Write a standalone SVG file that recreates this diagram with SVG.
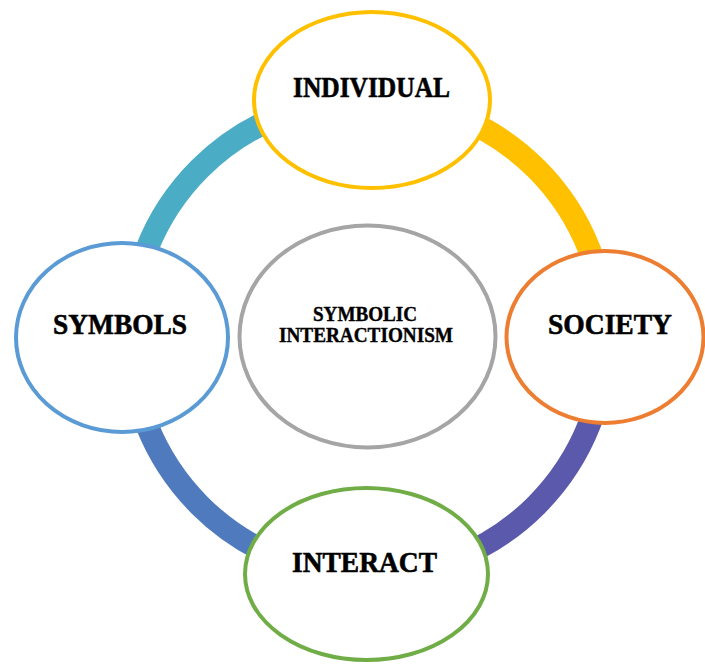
<svg xmlns="http://www.w3.org/2000/svg" width="705" height="664" viewBox="0 0 705 664">
  <style>
    .ring { fill: none; stroke-width: 23; }
    .node { fill: #ffffff; stroke-width: 4; }
    .lbl { font-family: "Liberation Serif", "DejaVu Serif", serif; font-weight: bold; fill: #000000; stroke: #000000; stroke-width: 0.6; text-anchor: middle; }
    .big { font-size: 29px; }
    .small { font-size: 20px; stroke-width: 0.4; }
  </style>
  <rect width="705" height="664" fill="#ffffff"/>

  <!-- cycle ring, one coloured quarter per step -->
  <g id="connectors">
    <path class="ring" stroke="#4BACC6" d="M130,337 A238,238 0 0 1 368,99"/>
    <path class="ring" stroke="#FFC000" d="M368,99 A238,238 0 0 1 606,337"/>
    <path class="ring" stroke="#5B59AB" d="M606,337 A238,238 0 0 1 368,575"/>
    <path class="ring" stroke="#4F7BBE" d="M368,575 A238,238 0 0 1 130,337"/>
  </g>

  <g id="center">
    <ellipse class="node" stroke="#A5A5A5" cx="367.5" cy="336.5" rx="128" ry="111"/>
    <text class="lbl small" x="365" y="321" textLength="104" lengthAdjust="spacingAndGlyphs">SYMBOLIC</text>
    <text class="lbl small" x="366" y="342" textLength="174" lengthAdjust="spacingAndGlyphs">INTERACTIONISM</text>
  </g>

  <g id="individual">
    <ellipse class="node" stroke="#FFC000" cx="372" cy="100" rx="118" ry="88"/>
    <text class="lbl big" x="371.5" y="97" textLength="157" lengthAdjust="spacingAndGlyphs">INDIVIDUAL</text>
  </g>

  <g id="society">
    <ellipse class="node" stroke="#ED7D31" cx="605" cy="337" rx="98.5" ry="86"/>
    <text class="lbl big" x="610" y="334" textLength="124" lengthAdjust="spacingAndGlyphs">SOCIETY</text>
  </g>

  <g id="interact">
    <ellipse class="node" stroke="#70AD47" cx="366.5" cy="574" rx="121.5" ry="86"/>
    <text class="lbl big" x="364.5" y="572" textLength="145" lengthAdjust="spacingAndGlyphs">INTERACT</text>
  </g>

  <g id="symbols">
    <ellipse class="node" stroke="#5B9BD5" cx="122" cy="337.5" rx="106" ry="94.5"/>
    <text class="lbl big" x="120" y="334" textLength="134" lengthAdjust="spacingAndGlyphs">SYMBOLS</text>
  </g>
</svg>
